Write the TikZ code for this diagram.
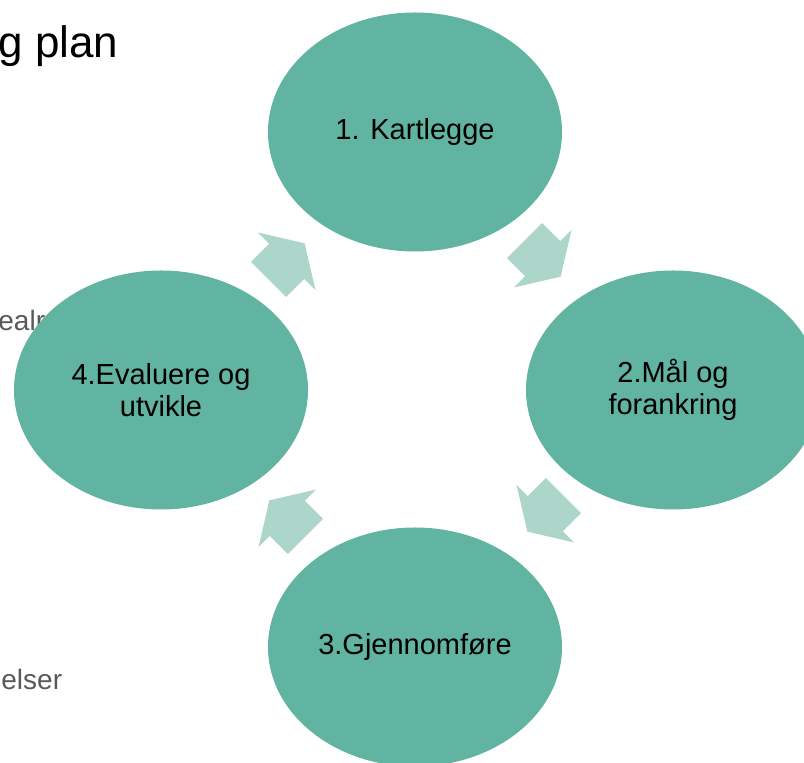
\documentclass[tikz,border=0pt]{standalone}
\usepackage{fontspec}
\setmainfont{Liberation Sans}
\usetikzlibrary{shapes.geometric,shapes.arrows}
\definecolor{fasefarge}{RGB}{97,180,161}
\definecolor{pilfarge}{RGB}{173,214,203}
\definecolor{tekstgraa}{RGB}{89,89,89}
\tikzset{
	fase/.style={ellipse,fill=fasefarge,inner sep=0pt,minimum width=147pt,minimum height=119.5pt,align=center,font=\fontsize{14.5}{16}\selectfont},
	pil/.style={single arrow,fill=pilfarge,inner xsep=0pt,inner ysep=12.2pt,minimum height=25.5pt,single arrow head extend=8pt,single arrow tip angle=116,anchor=tip},
	bakgrunn/.style={anchor=base west,inner sep=0pt,text=tekstgraa,font=\fontsize{14}{16}\selectfont},
}

\begin{document}
\begin{tikzpicture}[x=0.5pt,y=-0.5pt]
	\clip (0,0) rectangle (804,763);

	\node[anchor=base west,inner sep=0pt,font=\fontsize{22}{24}\selectfont] (tittel) at (  -2,  58) {g plan};
	\node[bakgrunn] (punkt1) at (  -2, 331) {ealr};
	\node[bakgrunn] (punkt2) at (   1, 690) {elser};

	\node[pil,rotate=  45] (p1) at ( 305, 243) {};
	\node[pil,rotate= -45] (p2) at ( 561, 277) {};
	\node[pil,rotate=-135] (p3) at ( 527, 532) {};
	\node[pil,rotate= 135] (p4) at ( 269, 500) {};

	\node[fase] (k1) at ( 415, 132) {1. Kartlegge};
	\node[fase] (k2) at ( 673, 390) {2.Mål og\\forankring};
	\node[fase] (k3) at ( 415, 647) {3.Gjennomføre};
	\node[fase] (k4) at ( 161, 390) {4.Evaluere og\\utvikle};
\end{tikzpicture}
\end{document}
